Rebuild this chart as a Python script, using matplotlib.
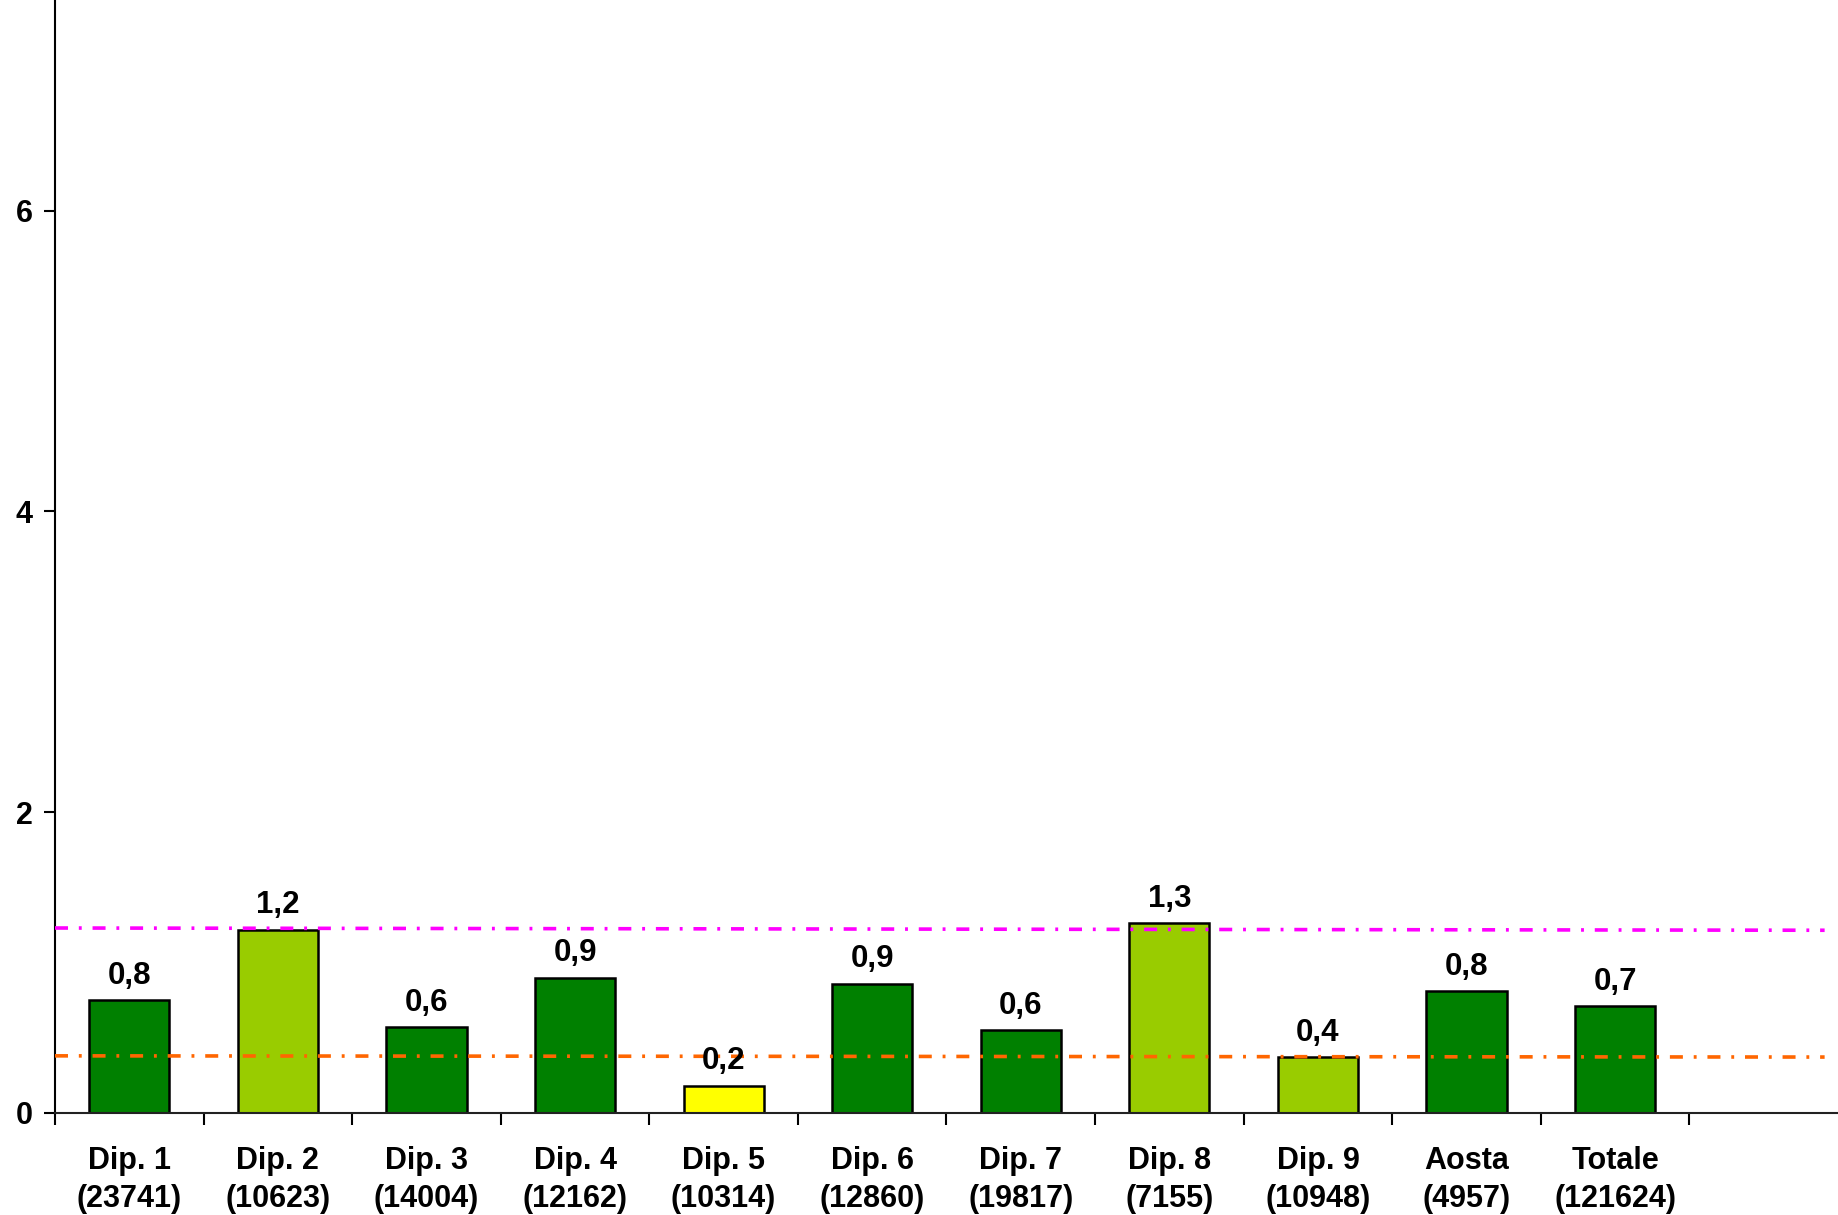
import matplotlib
matplotlib.use("Agg")
import matplotlib.pyplot as plt
import numpy as np

categories = ["Dip. 1\n(23741)", "Dip. 2\n(10623)", "Dip. 3\n(14004)", "Dip. 4\n(12162)",
              "Dip. 5\n(10314)", "Dip. 6\n(12860)", "Dip. 7\n(19817)", "Dip. 8\n(7155)",
              "Dip. 9\n(10948)", "Aosta\n(4957)", "Totale\n(121624)"]
values = [0.75, 1.22, 0.57, 0.90, 0.18, 0.86, 0.55, 1.26, 0.37, 0.81, 0.71]
value_labels = ["0,8", "1,2", "0,6", "0,9", "0,2", "0,9", "0,6", "1,3", "0,4", "0,8", "0,7"]
bar_colors = ["#008000", "#99CC00", "#008000", "#008000", "#FFFF00", "#008000",
              "#008000", "#99CC00", "#99CC00", "#008000", "#008000"]
ref_x = [-0.5, 11.41]
ref_upper = [1.23, 1.215]
ref_lower = [0.38, 0.372]
yticks = [0, 2, 4, 6]

plt.rcParams['font.family'] = ['Liberation Sans', 'DejaVu Sans']
plt.rcParams['font.weight'] = 'bold'

fig = plt.figure(figsize=(18.38, 12.15), dpi=100)
ax = fig.add_axes([55/1838, 102/1215, 1 - 55/1838, 1113/1215])

x = np.arange(len(categories))
ax.bar(x, values, width=0.54, color=bar_colors, edgecolor="black", linewidth=1.8, zorder=2)

ax.plot(ref_x, ref_upper, color="#FF00FF", linewidth=2.6, linestyle=(0, (3.6, 3.0, 0.8, 3.0)),
        dash_capstyle='butt', zorder=3, clip_on=False)
ax.plot(ref_x, ref_lower, color="#FF6600", linewidth=2.6, linestyle=(0, (3.6, 3.0, 0.8, 3.0)),
        dash_capstyle='butt', zorder=3, clip_on=False)

for xi, v, lab in zip(x, values, value_labels):
    ax.annotate(lab, (xi, v), xytext=(0, 12), textcoords="offset points",
                ha="center", va="baseline", fontsize=22.5, fontweight="bold", zorder=4)

ax.set_xlim(-0.5, 11.5)
ax.set_ylim(0, 7.4)

ax.set_xticks(x)
ax.set_xticklabels(categories, fontsize=22, fontweight="bold", linespacing=1.33)
ax.set_xticks(np.arange(-0.5, 11.0, 1.0), minor=True)
ax.tick_params(axis="x", which="major", length=0, pad=24)
ax.tick_params(axis="x", which="minor", length=8.5, width=1.5, direction="out", color="black")

ax.set_yticks(yticks)
ax.set_yticklabels([str(t) for t in yticks], fontsize=22, fontweight="bold")
ax.tick_params(axis="y", length=8, width=1.5, pad=8, direction="out")

for s in ["top", "right"]:
    ax.spines[s].set_visible(False)
ax.spines["left"].set_linewidth(1.5)
ax.spines["bottom"].set_linewidth(1.5)
ax.spines["bottom"].set_color("#222222")

fig.savefig("out.png", dpi=100)
